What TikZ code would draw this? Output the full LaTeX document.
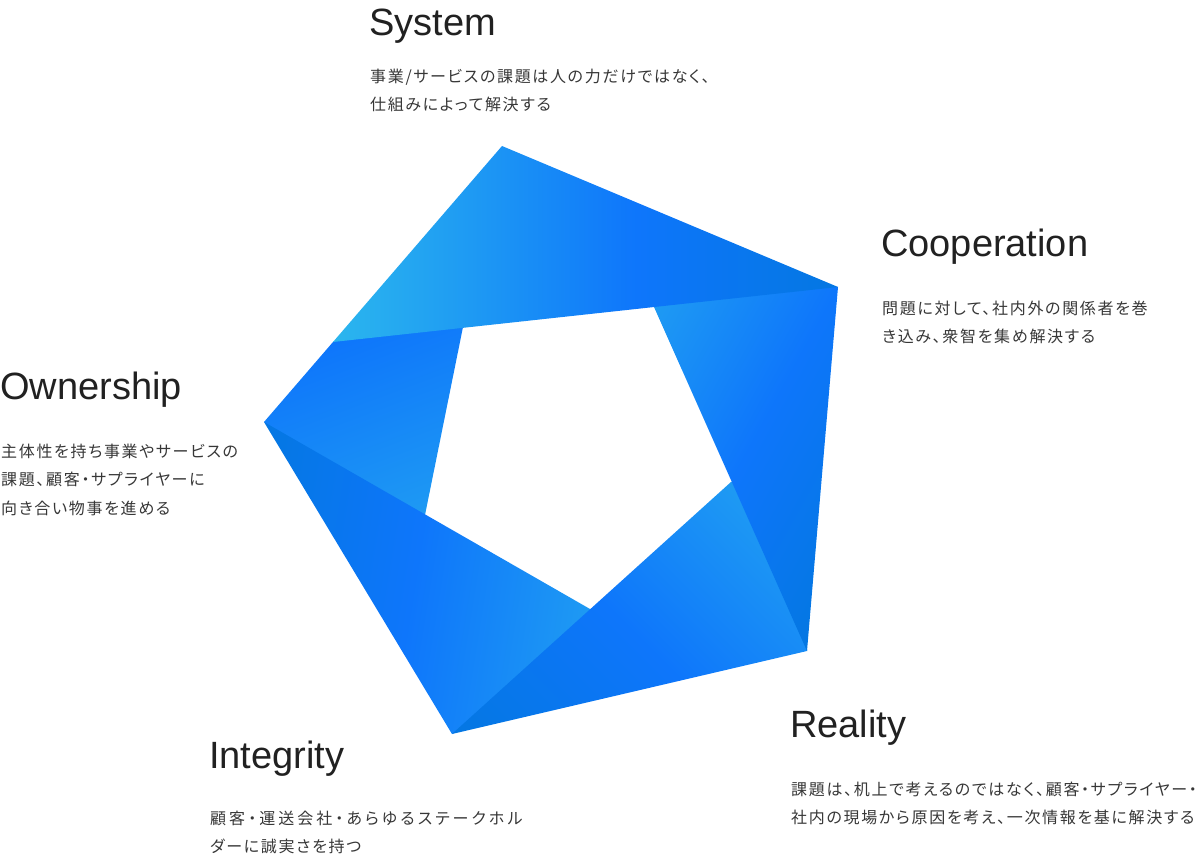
\documentclass[tikz,border=0pt]{standalone}
\usepackage{fontspec}
\setmainfont{Liberation Sans}
\newfontfamily\jpfont[RawFeature=+palt,LetterSpace=10.4]{Noto Sans CJK JP}
\newfontfamily\jpwidefont[RawFeature=+palt,LetterSpace=19]{Noto Sans CJK JP}
\definecolor{skyblue}{HTML}{2BB6EE}
\definecolor{lightblue}{HTML}{1E9AF3}
\definecolor{brightblue}{HTML}{0E76FB}
\definecolor{darkblue}{HTML}{0477E2}
\definecolor{inkgray}{HTML}{212121}
\pgfdeclarehorizontalshading{topshade}{100bp}{color(0bp)=(skyblue); color(36.4bp)=(skyblue); color(45bp)=(lightblue); color(55.4bp)=(brightblue); color(68bp)=(darkblue); color(100bp)=(darkblue)}
\pgfdeclarehorizontalshading{rightshade}{100bp}{color(0bp)=(lightblue); color(51.7bp)=(lightblue); color(61.2bp)=(brightblue); color(70.4bp)=(darkblue); color(100bp)=(darkblue)}
\pgfdeclarehorizontalshading{lowrightshade}{100bp}{color(0bp)=(darkblue); color(32.6bp)=(darkblue); color(45.1bp)=(brightblue); color(56.1bp)=(lightblue); color(100bp)=(lightblue)}
\pgfdeclarehorizontalshading{lowleftshade}{100bp}{color(0bp)=(darkblue); color(32.2bp)=(darkblue); color(43bp)=(brightblue); color(54.2bp)=(lightblue); color(100bp)=(lightblue)}
\pgfdeclarehorizontalshading{leftshade}{100bp}{color(0bp)=(brightblue); color(39.6bp)=(brightblue); color(51.7bp)=(lightblue); color(100bp)=(lightblue)}
\begin{document}
\begin{tikzpicture}[x=1pt,y=-1pt,
	headnode/.style={anchor=base west,inner sep=0pt,text=inkgray,font=\fontsize{38}{44}\selectfont},
	textnode/.style={anchor=north west,inner sep=0pt,align=left,text=inkgray!90,font=\jpfont\fontsize{16}{28.5}\selectfont}]
	\useasboundingbox (0,0) rectangle (1200,858);

	% Left
	\begin{scope}
		\clip (264,422) -- (333,342) -- (336,340) -- (463,325) -- (463,327) -- (425,515) -- (425,517) -- (266,424) -- cycle;
		\shade[shading=leftshade,shading angle=-69.6] (150,40) rectangle (950,840);
	\end{scope}

	% Lower left
	\begin{scope}
		\clip (452,734) -- (264,422) -- (590,609) -- (592,609) -- (455,732.5) -- cycle;
		\shade[shading=lowleftshade,shading angle=-9.2] (150,40) rectangle (950,840);
	\end{scope}

	% Lower right
	\begin{scope}
		\clip (807,651) -- (452,734) -- (731,482) -- (733,482) -- (807,649) -- cycle;
		\shade[shading=lowrightshade,shading angle=45] (150,40) rectangle (950,840);
	\end{scope}

	% Right
	\begin{scope}
		\clip (838,287) -- (807,651) -- (654,307) -- (654,305) -- (830,286.9) -- cycle;
		\shade[shading=rightshade,shading angle=-29] (150,40) rectangle (950,840);
	\end{scope}

	% Top
	\begin{scope}
		\clip (502,146) -- (838,287) -- (333,342) -- cycle;
		\shade[shading=topshade,shading angle=0] (150,40) rectangle (950,840);
	\end{scope}

	% System
	\node[headnode] (system) at (369,36) {System};
	\node[textnode] (systemtext) at (370,68.5) {事業/サービスの課題は人の力だけではなく、\\仕組みによって解決する};

	% Cooperation
	\node[headnode] (cooperation) at (881,257) {Cooperation};
	\node[textnode] (cooperationtext) at (882,300.5) {問題に対して、社内外の関係者を巻\\き込み、衆智を集め解決する};

	% Ownership
	\node[headnode] (ownership) at (0,400) {Ownership};
	\node[textnode] (ownershiptext) at (1,443.5) {主体性を持ち事業やサービスの\\課題、顧客・サプライヤーに\\向き合い物事を進める};

	% Reality
	\node[headnode] (reality) at (790,737) {Reality};
	\node[textnode] (realitytext) at (791,781.5) {課題は、机上で考えるのではなく、顧客・サプライヤー・\\社内の現場から原因を考え、一次情報を基に解決する};

	% Integrity
	\node[headnode] (integrity) at (209,768) {Integrity};
	\node[textnode] (integritytext) at (210,810.5) {{\jpwidefont 顧客・運送会社・あらゆるステークホル}\\ダーに誠実さを持つ};
\end{tikzpicture}
\end{document}
